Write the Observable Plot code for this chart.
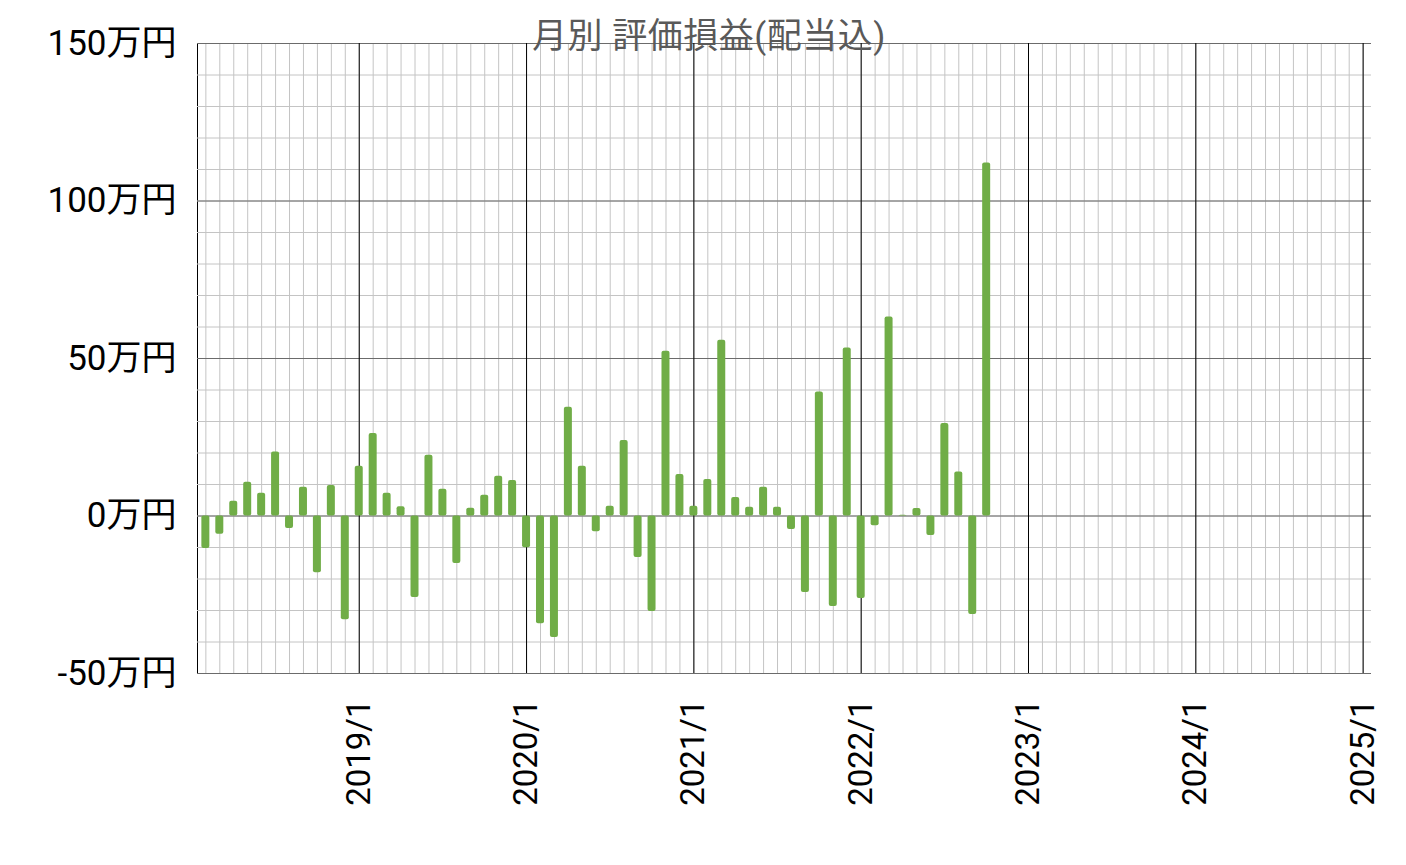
<!DOCTYPE html>
<html>
<head>
<meta charset="utf-8">
<script src="https://cdn.jsdelivr.net/npm/d3@7"></script>
<script src="https://cdn.jsdelivr.net/npm/@observablehq/plot@0.6"></script>
<style>
  html, body { margin: 0; padding: 0; background: #fff; }
  #wrap { position: relative; width: 1406px; height: 865px; font-family: Roboto, "Noto Sans CJK JP", sans-serif; }
  #title { position: absolute; top: 19px; left: 6px; width: 1406px; text-align: center; font-size: 35px; line-height: 35px; color: #595959; letter-spacing: 0.5px; pointer-events: none; z-index: 2; }
  g[aria-label="x-axis"] text, g[aria-label="x-axis tick label"] text { font-size: 33px; }
</style>
</head>
<body>
<div id="wrap"><div id="title">月別 評価損益(配当込)</div></div>
<script>
const months = [
  "2018/2","2018/3","2018/4","2018/5","2018/6","2018/7","2018/8","2018/9","2018/10","2018/11","2018/12",
  "2019/1","2019/2","2019/3","2019/4","2019/5","2019/6","2019/7","2019/8","2019/9","2019/10","2019/11","2019/12",
  "2020/1","2020/2","2020/3","2020/4","2020/5","2020/6","2020/7","2020/8","2020/9","2020/10","2020/11","2020/12",
  "2021/1","2021/2","2021/3","2021/4","2021/5","2021/6","2021/7","2021/8","2021/9","2021/10","2021/11","2021/12",
  "2022/1","2022/2","2022/3","2022/4","2022/5","2022/6","2022/7","2022/8","2022/9","2022/10"
];
// 万円
const values = [
  -10.3, -5.8, 4.7, 10.7, 7.2, 20.3, -4.0, 9.1, -18.0, 9.7, -32.9,
  15.8, 26.2, 7.2, 2.9, -25.9, 19.3, 8.5, -15.1, 2.5, 6.6, 12.6, 11.3,
  -10.1, -34.2, -38.6, 34.5, 15.8, -5.0, 3.1, 24.0, -13.2, -30.3, 52.3, 13.2,
  3.1, 11.6, 55.8, 5.9, 2.8, 9.1, 2.8, -4.3, -24.3, 39.4, -28.7, 53.3,
  -26.2, -3.1, 63.2, 0.2, 2.4, -6.2, 29.4, 14.0, -31.3, 112.1
];
const xTickLabels = ["2019/1","2020/1","2021/1","2022/1","2023/1","2024/1","2025/1"];
const yTicks = [-50, 0, 50, 100, 150];
const yMinorStep = 10;

// month index since 2018/1
const monthIndex = s => { const [y, m] = s.split("/").map(Number); return (y - 2018) * 12 + (m - 1); };
const data = months.map((m, i) => ({ t: monthIndex(m), v: values[i] }));
const xTicks = xTickLabels.map(monthIndex);
const minorX = d3.range(1, d3.max(xTicks) + 1);
const minorY = d3.range(yTicks[0], yTicks[yTicks.length - 1] + 1, yMinorStep);

const chart = Plot.plot({
  width: 1406,
  height: 865,
  marginLeft: 197,
  marginRight: 35,
  marginTop: 43,
  marginBottom: 192,
  style: { fontFamily: 'Roboto, "Noto Sans CJK JP", sans-serif', fontSize: "35px", color: "#000", background: "transparent" },
  x: {
    type: "linear",
    domain: [0.4, 84.6],
    ticks: xTicks,
    tickFormat: d => xTickLabels[xTicks.indexOf(d)],
    tickRotate: -90,
    tickSize: 0,
    tickPadding: 26,
    label: null
  },
  y: {
    domain: [-50, 150],
    ticks: yTicks,
    tickFormat: d => d + "万円",
    tickSize: 0,
    tickPadding: 21,
    label: null,
    line: true
  },
  marks: [
    Plot.ruleY(minorY, { stroke: "#c4c4c4", strokeWidth: 1 }),
    Plot.ruleX(minorX, { stroke: "#c4c4c4", strokeWidth: 1 }),
    Plot.ruleY(yTicks, { stroke: "#6b6b6b", strokeWidth: 1 }),
    Plot.ruleX(xTicks, { stroke: "#000", strokeWidth: 1 }),
    Plot.rect(data, { x1: "t", x2: "t", y1: d => 0, y2: "v", insetLeft: -4, insetRight: -4, fill: "#70ad47", rx: 2 })
  ]
});
document.getElementById("wrap").appendChild(chart);
</script>
</body>
</html>
